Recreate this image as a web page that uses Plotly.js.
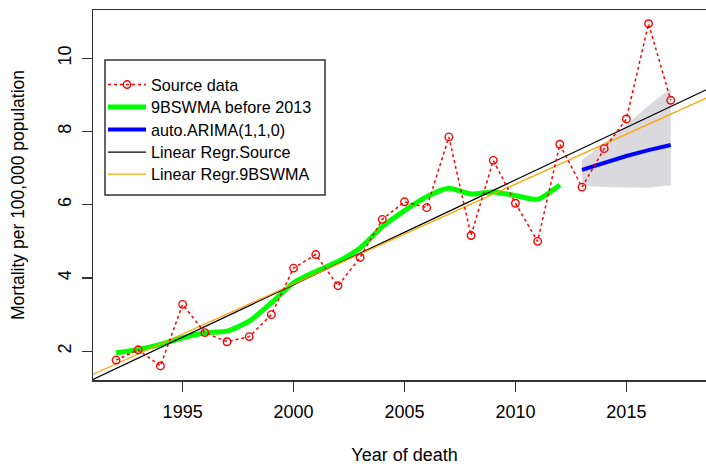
<!DOCTYPE html>
<html>
<head>
<meta charset="utf-8">
<script src="https://cdn.plot.ly/plotly-3.0.1.min.js"></script>
<style>
html, body { margin: 0; padding: 0; overflow: hidden; background: #fff; }
#chart { width: 716px; height: 466px; }
</style>
</head>
<body>
<div id="chart"></div>
<script>
// ---- data ----
const sourceYears = [1992,1993,1994,1995,1996,1997,1998,1999,2000,2001,2002,2003,2004,2005,2006,2007,2008,2009,2010,2011,2012,2013,2014,2015,2016,2017];
const sourceValues = [1.76,2.04,1.60,3.28,2.51,2.26,2.40,3.00,4.27,4.64,3.79,4.56,5.60,6.08,5.92,7.85,5.16,7.21,6.04,5.00,7.65,6.48,7.53,8.34,10.94,8.85];

const smaYears = [1992,1993,1994,1995,1996,1997,1998,1999,2000,2001,2002,2003,2004,2005,2006,2007,2008,2009,2010,2011,2012];
const smaValues = [1.96,2.05,2.19,2.37,2.50,2.55,2.82,3.32,3.87,4.18,4.45,4.82,5.40,5.84,6.22,6.45,6.29,6.35,6.25,6.15,6.54];

const arimaYears = [2013,2014,2015,2016,2017];
const arimaValues = [6.95,7.15,7.33,7.49,7.63];
const bandUpper = [7.22,7.67,8.17,8.71,9.17];
const bandLower = [6.52,6.48,6.46,6.46,6.53];

const regYears = [1990, 2020];
const regSourceValues = [0.958, 9.537];
const regSmaValues = [1.107, 9.291];

const xRange = [1990.96, 2019.04];
const yRange = [1.216, 11.314];
const xTicks = [1995, 2000, 2005, 2010, 2015];
const yTicks = [2, 4, 6, 8, 10];

// ---- geometry helpers ----
const W = 716, H = 466, ml = 93, mr = 0, mt = 10, mb = 86;
const pw = W - ml - mr, ph = H - mt - mb;
const px = v => (v - ml) / pw;
const py = v => (H - mb - v) / ph;
const FAM = '"Liberation Sans", Arial, sans-serif';

// ---- traces ----
const bandX = arimaYears.concat(arimaYears.slice().reverse());
const bandY = bandUpper.concat(bandLower.slice().reverse());

const traces = [
  { x: bandX, y: bandY, type: 'scatter', mode: 'lines', fill: 'toself',
    fillcolor: 'rgb(217,217,222)', line: { width: 0, color: 'rgba(0,0,0,0)' },
    showlegend: false, hoverinfo: 'skip' },
  { x: smaYears, y: smaValues, type: 'scatter', mode: 'lines', name: '9BSWMA before 2013',
    line: { color: '#00ff00', width: 5, shape: 'spline', smoothing: 0.6 }, legend: 'legend2' },
  { x: arimaYears, y: arimaValues, type: 'scatter', mode: 'lines', name: 'auto.ARIMA(1,1,0)',
    line: { color: '#0000ff', width: 4 }, legend: 'legend3' },
  { x: regYears, y: regSourceValues, type: 'scatter', mode: 'lines', name: 'Linear Regr.Source',
    line: { color: '#000000', width: 1.3 }, legend: 'legend4' },
  { x: regYears, y: regSmaValues, type: 'scatter', mode: 'lines', name: 'Linear Regr.9BSWMA',
    line: { color: '#ffa500', width: 1.3 }, legend: 'legend5' },
  { x: sourceYears, y: sourceValues, type: 'scatter', mode: 'lines+markers', name: 'Source data',
    line: { color: '#ff0000', width: 1.5, dash: 'dot' },
    marker: { symbol: 'circle-open', size: 7.5, color: '#ff0000', line: { width: 1.4, color: '#ff0000' } },
    legend: 'legend' }
];

const rowY = [85, 107.5, 130, 152.5, 174.5];
function mkLegend(i) {
  return {
    x: px(103), y: py(rowY[i]), xanchor: 'left', yanchor: 'middle',
    bgcolor: 'rgba(0,0,0,0)', borderwidth: 0,
    font: { family: FAM, size: 16.2, color: '#000' },
    itemwidth: 38
  };
}

const layout = {
  width: W, height: H,
  margin: { l: ml, r: mr, t: mt, b: mb, pad: 0 },
  paper_bgcolor: '#fff', plot_bgcolor: '#fff',
  font: { family: FAM, color: '#000' },
  showlegend: true,
  legend: mkLegend(0), legend2: mkLegend(1), legend3: mkLegend(2),
  legend4: mkLegend(3), legend5: mkLegend(4),
  xaxis: {
    range: xRange, tickvals: xTicks, ticktext: xTicks.map(String),
    showgrid: false, zeroline: false,
    showline: true, linecolor: '#333', linewidth: 1.5, mirror: true,
    ticks: 'outside', ticklen: 10, tickwidth: 1.3, tickcolor: '#333',
    tickfont: { family: FAM, size: 18, color: '#000' },
    ticklabelstandoff: 5,
    title: { text: 'Year of death', font: { family: FAM, size: 18, color: '#000' }, standoff: 27 },
    automargin: false
  },
  yaxis: {
    range: yRange, tickvals: yTicks, ticktext: yTicks.map(String),
    showgrid: false, zeroline: false,
    showline: true, linecolor: '#333', linewidth: 1.5,
    ticks: 'outside', ticklen: 10, tickwidth: 1.3, tickcolor: '#333',
    tickangle: -90,
    tickfont: { family: FAM, size: 18, color: '#000' },
    ticklabelstandoff: 3,
    title: { text: 'Mortality per 100,000 population', font: { family: FAM, size: 17.5, color: '#000' }, standoff: 26 },
    automargin: false
  },
  shapes: [
    { type: 'rect', xref: 'paper', yref: 'paper', layer: 'below',
      x0: px(105), x1: px(325), y0: py(195), y1: py(60),
      line: { color: '#333', width: 1.5 }, fillcolor: '#fff' }
  ]
};

Plotly.newPlot('chart', traces, layout, { staticPlot: true, displayModeBar: false });
</script>
</body>
</html>
